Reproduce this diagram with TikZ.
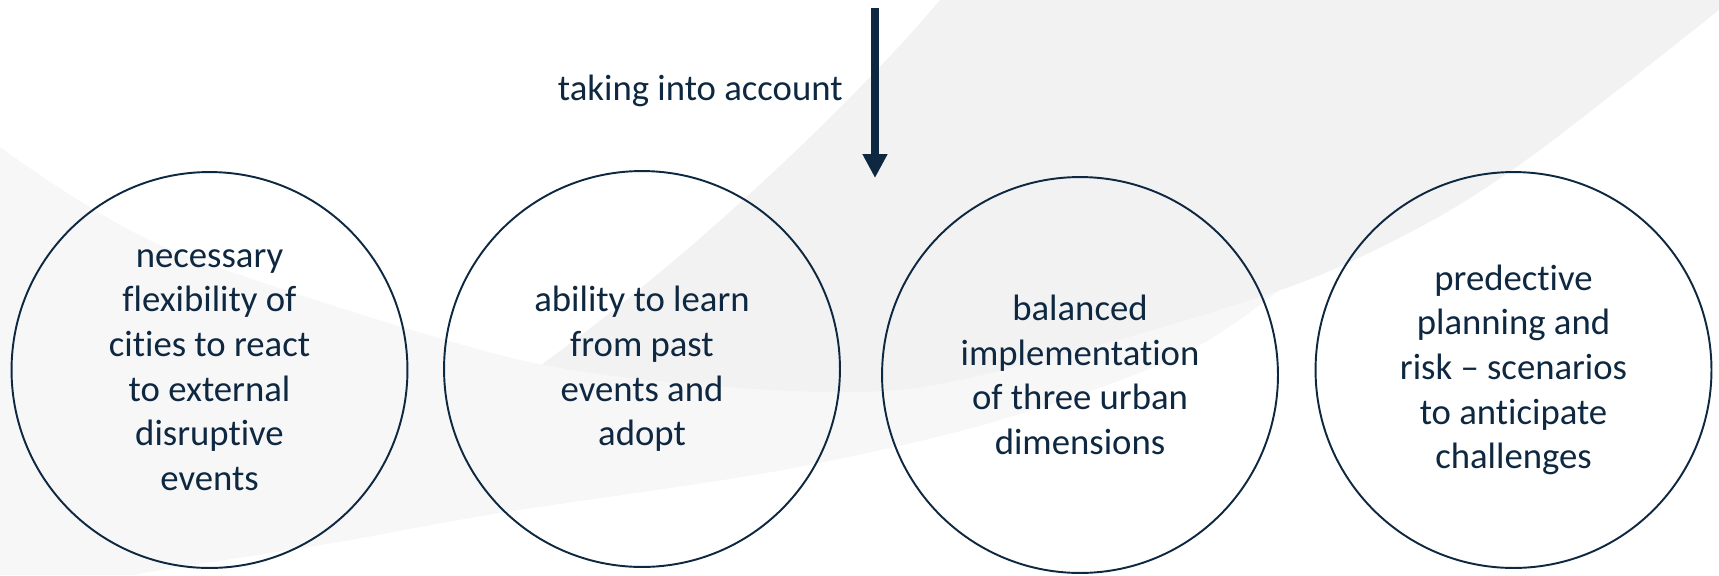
\documentclass[tikz,border=0pt]{standalone}
\usepackage{fontspec}
\setmainfont{Carlito}[Ligatures={NoCommon,NoRare,NoContextual}]
\usetikzlibrary{arrows.meta}
\definecolor{navy}{RGB}{14,40,65}
\definecolor{swoosh}{RGB}{242,242,242}
\definecolor{band}{RGB}{247,247,247}
\tikzset{
  ring/.style={draw=navy, line width=1.1pt, circle, minimum size=7.92cm, inner sep=0pt,
    align=center, text=navy, font=\fontsize{20.9}{25.4}\selectfont},
  caption/.style={text=navy, inner sep=0pt, font=\fontsize{20.9}{25.4}\selectfont},
  pointer/.style={draw=navy, line width=4.5pt, -{Triangle[width=0.47cm,length=0.48cm]}},
}
\begin{document}
\begin{tikzpicture}[x=0.02cm,y=-0.02cm]
        \useasboundingbox (0,0) rectangle (1719,575);
        % background band and swoosh
        \begin{scope}
            \clip (0,0) rectangle (1719,575);
            \begin{scope}
                \clip plot[smooth] coordinates {(0,600) (150,572) (333,543) (500,513) (783,470) (1000,420) (1200,345) (1400,200) (1719,0)} -- (0,0) -- cycle;
                \fill[band] plot[smooth] coordinates {(0,147) (167,248) (500,355) (700,385) (900,390) (1100,345) (1300,283) (1433,220) (1540,150) (1719,10)} -- (1719,575) -- (0,575) -- cycle;
            \end{scope}
            \begin{scope}
                \clip plot[smooth] coordinates {(0,147) (167,248) (500,355) (700,385) (900,390) (1100,345) (1300,283) (1433,220) (1540,150) (1719,10)} -- (1719,0) -- (0,0) -- cycle;
                \fill[swoosh] (940,0) .. controls (860,95) and (700,250) .. (545,362) -- (500,400) -- (1719,400) -- (1719,0) -- cycle;
            \end{scope}
        \end{scope}
        % circles
        \node[ring] (flex) at (209.5,370) {necessary\\flexibility of\\cities to react\\to external\\disruptive\\events};
        \node[ring] (learn) at (642,369) {ability to learn\\from past\\events and\\adopt};
        \node[ring] (balance) at (1080,375) {balanced\\implementation\\of three urban\\dimensions};
        \node[ring] (predict) at (1513.5,370) {predective\\planning and\\risk -- scenarios\\to anticipate\\challenges};
        % arrow
        \coordinate (src) at (875,8);
        \coordinate (tip) at (875,178);
        \draw[pointer] (src) -- (tip);
        \node[caption, anchor=base east] (consider) at (843,100) {taking into account};
\end{tikzpicture}
\end{document}
